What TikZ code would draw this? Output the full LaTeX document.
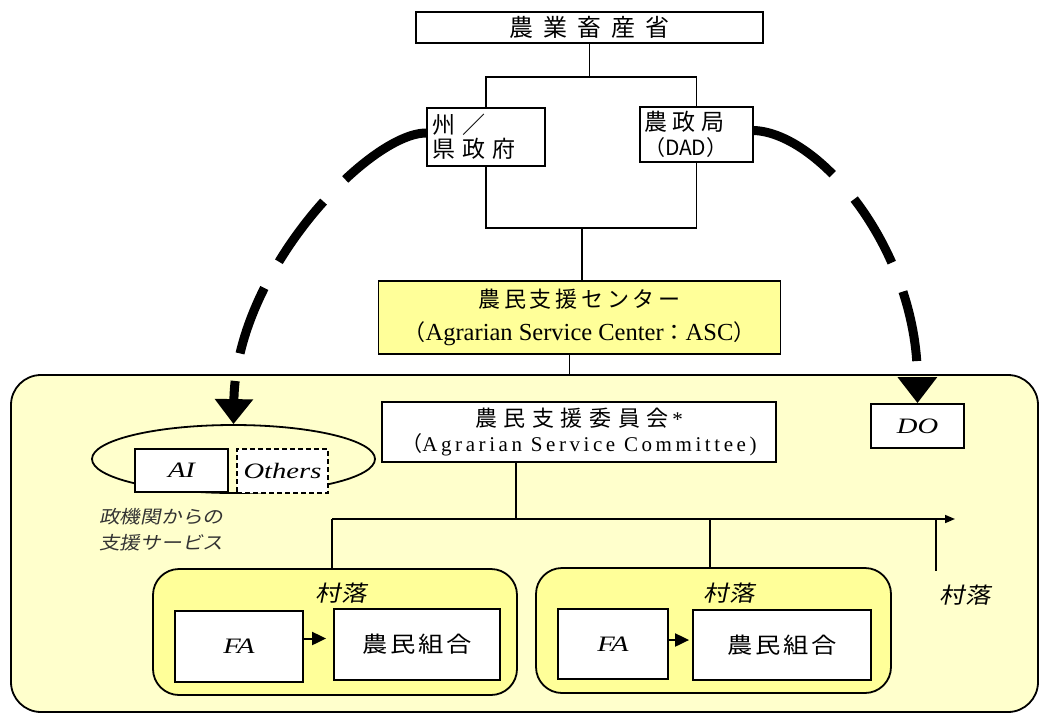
\documentclass[tikz,border=0pt]{standalone}
\usepackage{fontspec}
\setmainfont{Liberation Serif}
\newfontfamily\jp{Noto Sans CJK JP}
\newfontfamily\jpw[FakeStretch=1.15]{Noto Sans CJK JP}
\newfontfamily\jpitw[FakeSlant=0.2,FakeStretch=1.15]{Noto Sans CJK JP}
\newfontfamily\wideit[FakeStretch=1.3]{Liberation Serif}
\usetikzlibrary{arrows.meta,shapes.geometric}
\definecolor{areafill}{HTML}{FFFFCC}
\definecolor{unitfill}{HTML}{FFFF99}
\newcommand\setsz[2]{\fontsize{#1pt}{#2pt}\selectfont}
\newcommand\lspace[1]{\addfontfeature{LetterSpace=#1}}
\begin{document}
\begin{tikzpicture}[x=1pt,y=-1pt,
  box/.style={draw=black,line width=1.8pt,fill=white,inner sep=0pt},
  link/.style={draw=black,line width=1.6pt},
  bigdash/.style={draw=black,line width=9pt},
  village/.style={draw=black,line width=1.8pt,fill=unitfill,rounded corners=26pt,inner sep=0pt},
  vlabel/.style={inner sep=0pt,font=\jpitw\setsz{22}{26}\lspace{6}},
  latinit/.style={font=\wideit\itshape\setsz{22}{26}},
  smallhead/.style={-{Triangle[width=8pt,length=10pt]}},
  fahead/.style={-{Triangle[width=13pt,length=14pt]}}
]
\useasboundingbox (0,0) rectangle (1041,713);

% ministry and the two regional offices
\node[box,minimum width=347pt,minimum height=31pt,font=\jp\setsz{24}{28}\lspace{42}] (top) at (589.5,27.5) {農業畜産省};
\node[box,minimum width=118pt,minimum height=58pt,text width=108pt,align=left,font=\jp\setsz{23}{24}\lspace{32}] (state) at (486,137) {州／\\県政府};
\node[box,minimum width=113pt,minimum height=55pt,text width=105pt,align=left,font=\jp\setsz{23}{25}] (dad) at (696.5,134.5) {{\lspace{26}農政局}\\{\setsz{21}{25}（DAD）}};

% service centre
\node[box,fill=unitfill,minimum width=402pt,minimum height=73pt,align=center,font=\setsz{24.5}{33}] (asc) at (579.5,317.5)
  {{\jp\setsz{22}{33}\lspace{17}農民支援センター}\\{\jp\setsz{22}{33}（}Agrarian Service Center{\jp\setsz{22}{33}：}ASC{\jp\setsz{22}{33}）}};

% local area
\node[draw=black,line width=1.8pt,fill=areafill,rounded corners=30pt,minimum width=1027pt,minimum height=337pt,inner sep=0pt] (area) at (524.5,543.5) {};

\node[box,minimum width=394pt,minimum height=60pt,align=center,font=\setsz{21}{25}] (comm) at (579,432)
  {{\jp\setsz{22}{25}\lspace{30}農民支援委員会}\,{*}\\{\jp （}{\lspace{17}Agrarian Service Committee)}};

\node[box,minimum width=93pt,minimum height=44pt,latinit] (do) at (917.5,426) {DO};

\node[draw=black,ellipse,line width=1.8pt,fill=areafill,minimum width=283pt,minimum height=68pt,inner sep=0pt] (svc) at (233.5,459) {};
\node[box,minimum width=93pt,minimum height=43pt,latinit] (ai) at (181.5,470.5) {AI};
\node[box,dash pattern=on 5pt off 3pt,minimum width=91pt,minimum height=44pt,latinit] (oth) at (282.5,471) {Others};
\node[anchor=west,align=left,inner sep=0pt,text=black!80,font=\jpitw\setsz{18}{26}] (cap) at (99,530) {政機関からの\\支援サービス};

% villages
\node[village,minimum width=364pt,minimum height=126pt] (v1) at (335,632) {};
\node[village,minimum width=355pt,minimum height=125pt] (v2) at (713.5,630.5) {};
\node[vlabel] (v1lab) at (341,593) {村落};
\node[vlabel] (v2lab) at (729,593) {村落};
\node[vlabel] (v3lab) at (965,595) {村落};

\node[box,minimum width=128pt,minimum height=71pt,latinit] (fa1) at (239,646.5) {FA};
\node[box,minimum width=166pt,minimum height=71pt,font=\jpw\setsz{22}{26}\lspace{12}] (farm1) at (417,644.5) {農民組合};
\node[box,minimum width=110pt,minimum height=70pt,latinit] (fa2) at (613,644) {FA};
\node[box,minimum width=178pt,minimum height=70pt,font=\jpw\setsz{22}{26}\lspace{12}] (farm2) at (782,645) {農民組合};

% tree connectors
\draw[link] (top.south) -- ++(0,33) coordinate (jt);
\draw[link] (state.north) |- (jt) -| (dad.north);
\coordinate (jb) at (582,228);
\draw[link] (state.south) |- (jb) -| (dad.south);
\draw[link] (jb) -- (jb |- asc.north);
\path (asc.south) ++(-10,0) coordinate (ascfoot);
\draw[link] (ascfoot) -- (ascfoot |- area.north);

\path (comm.south) ++(-63,0) coordinate (commfoot);
\coordinate (hl) at (332,519);
\coordinate (hm) at (710,519);
\coordinate (hk) at (936,519);
\coordinate (hr) at (955,519);
\coordinate (v3top) at (936,571);
\draw[link] (commfoot) -- (commfoot |- hl);
\draw[link,smallhead] (hl) -- (hr);
\draw[link] (hl) -- (hl |- v1.north);
\draw[link] (hm) -- (hm |- v2.north);
\draw[link] (hk) -- (v3top);

% FA to farmers' group
\path (fa1.east) ++(0,-8) coordinate (a1);
\path (fa2.east) ++(0,-4) coordinate (a2);
\draw[line width=2pt,fahead,shorten >=7pt] (a1) -- (a1 -| farm1.west);
\draw[line width=2pt,fahead,shorten >=3pt] (a2) -- (a2 -| farm2.west);

% support routes from the regional offices
\draw[bigdash,dash pattern=on 95pt off 31pt on 75pt off 30pt on 70pt off 28pt on 200pt,
      -{Triangle[width=37pt,length=25pt]}]
  ([yshift=4pt]state.west) .. controls (370,133) and (236,270) .. (svc.north);
\draw[bigdash,dash pattern=on 92pt off 33pt on 74pt off 31pt on 71pt off 200pt,
      -{Triangle[width=38pt,length=26pt]}]
  ([yshift=4pt]dad.east) .. controls (820,133) and (917,250) .. (do.north);
\end{tikzpicture}
\end{document}
